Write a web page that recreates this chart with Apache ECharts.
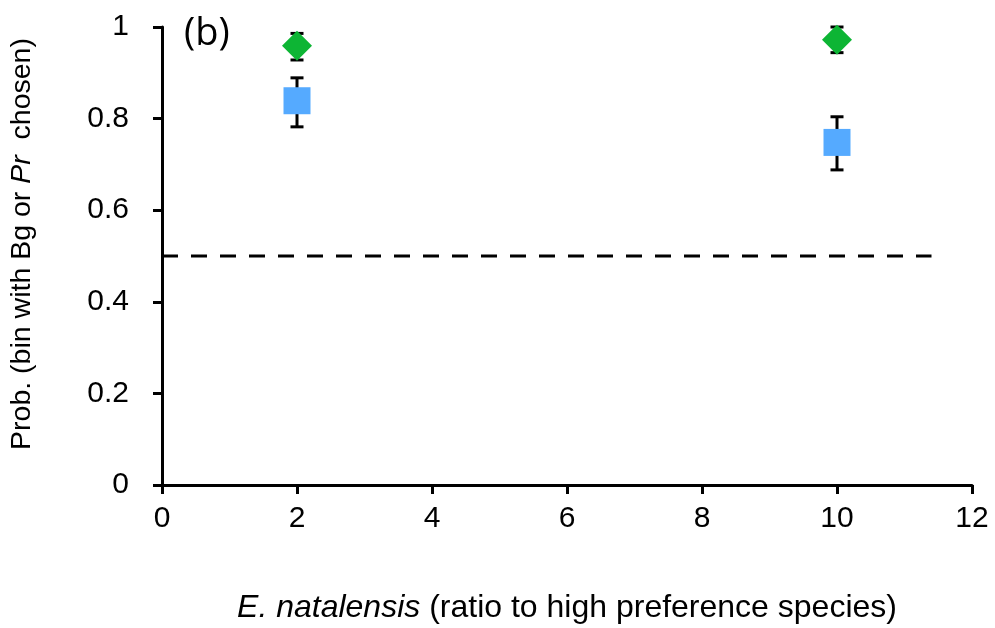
<!DOCTYPE html>
<html>
<head>
<meta charset="utf-8">
<script src="https://cdn.jsdelivr.net/npm/echarts@6/dist/echarts.min.js"></script>
<style>
  html, body { margin: 0; padding: 0; background: #fff; }
  #chart { width: 995px; height: 628px; }
</style>
</head>
<body>
<div id="chart"></div>
<script>
// Ratio of E. natalensis to the high preference species
const ratios = [2, 10];

// Diamond series: mean and error bar bounds
const diamondMean = [0.959, 0.972];
const diamondLow = [0.928, 0.944];
const diamondHigh = [0.986, 1.0];

// Square series: mean and error bar bounds
const squareMean = [0.839, 0.748];
const squareLow = [0.782, 0.688];
const squareHigh = [0.889, 0.804];

// Chance reference line
const chanceLevel = 0.5;
const chanceSpan = [0, 11.4];

// Axis ticks
const xTicks = [0, 2, 4, 6, 8, 10, 12];
const yTicks = [0, 0.2, 0.4, 0.6, 0.8, 1];

const FONT = '"Liberation Sans", Arial, sans-serif';

function errorBarSeries(low, high, z) {
  return {
    type: 'custom',
    z: z,
    silent: true,
    data: ratios.map((x, i) => [x, low[i], high[i]]),
    encode: { x: 0, y: [1, 2] },
    renderItem: function (params, api) {
      const x = api.value(0);
      const lo = api.coord([x, api.value(1)]);
      const hi = api.coord([x, api.value(2)]);
      const half = 6.5;
      const style = { stroke: '#000', lineWidth: 3, fill: null };
      return {
        type: 'group',
        children: [
          { type: 'line', shape: { x1: lo[0], y1: lo[1], x2: hi[0], y2: hi[1] }, style: style },
          { type: 'line', shape: { x1: hi[0] - half, y1: hi[1], x2: hi[0] + half, y2: hi[1] }, style: style },
          { type: 'line', shape: { x1: lo[0] - half, y1: lo[1], x2: lo[0] + half, y2: lo[1] }, style: style }
        ]
      };
    }
  };
}

const chart = echarts.init(document.getElementById('chart'), null, { renderer: 'canvas' });

chart.setOption({
  animation: false,
  backgroundColor: '#ffffff',
  grid: { left: 162, right: 23, top: 27, bottom: 143, containLabel: false, outerBoundsMode: 'none' },
  xAxis: {
    type: 'value',
    min: xTicks[0],
    max: xTicks[xTicks.length - 1],
    interval: xTicks[1] - xTicks[0],
    splitLine: { show: false },
    axisLine: { onZero: false, lineStyle: { color: '#000', width: 3 } },
    axisTick: { show: true, inside: false, length: 9, lineStyle: { color: '#000', width: 3 } },
    axisLabel: { color: '#000', fontFamily: FONT, fontSize: 30, margin: 19 },
    name: '{i|E. natalensis}{n| (ratio to high preference species)}',
    nameLocation: 'middle',
    nameGap: 107,
    nameTextStyle: {
      rich: {
        i: { fontFamily: FONT, fontSize: 32, fontStyle: 'italic', color: '#000' },
        n: { fontFamily: FONT, fontSize: 32, color: '#000' }
      }
    }
  },
  yAxis: {
    type: 'value',
    min: yTicks[0],
    max: yTicks[yTicks.length - 1],
    interval: 0.2,
    splitLine: { show: false },
    axisLine: { onZero: false, lineStyle: { color: '#000', width: 3 } },
    axisTick: { show: true, inside: false, length: 9, lineStyle: { color: '#000', width: 3 } },
    axisLabel: { color: '#000', fontFamily: FONT, fontSize: 30, margin: 33 },
    name: '{n|Prob. (bin with Bg or }{i|Pr}{n|  chosen)}',
    nameLocation: 'middle',
    nameGap: 125,
    nameTextStyle: {
      padding: [0, 0, 0, 24],
      rich: {
        i: { fontFamily: FONT, fontSize: 28.5, fontStyle: 'italic', color: '#000' },
        n: { fontFamily: FONT, fontSize: 28.5, color: '#000' }
      }
    }
  },
  graphic: [
    {
      type: 'text',
      left: 184,
      top: 15,
      style: { text: '(b)', fontFamily: '"Open Sans", "Liberation Sans", sans-serif', fontSize: 38, fill: '#000' }
    }
  ],
  series: [
    {
      type: 'line',
      silent: true,
      symbol: 'none',
      z: 1,
      data: chanceSpan.map(x => [x, chanceLevel]),
      lineStyle: { color: '#000', width: 3, type: [16, 13] }
    },
    errorBarSeries(squareLow, squareHigh, 2),
    errorBarSeries(diamondLow, diamondHigh, 2),
    {
      type: 'scatter',
      z: 3,
      symbol: 'rect',
      symbolSize: 27,
      itemStyle: { color: '#55AAFF', opacity: 1 },
      data: ratios.map((x, i) => [x, squareMean[i]])
    },
    {
      type: 'scatter',
      z: 3,
      symbol: 'diamond',
      symbolSize: 30,
      itemStyle: { color: '#0DB534', opacity: 1 },
      data: ratios.map((x, i) => [x, diamondMean[i]])
    }
  ]
});
</script>
</body>
</html>
